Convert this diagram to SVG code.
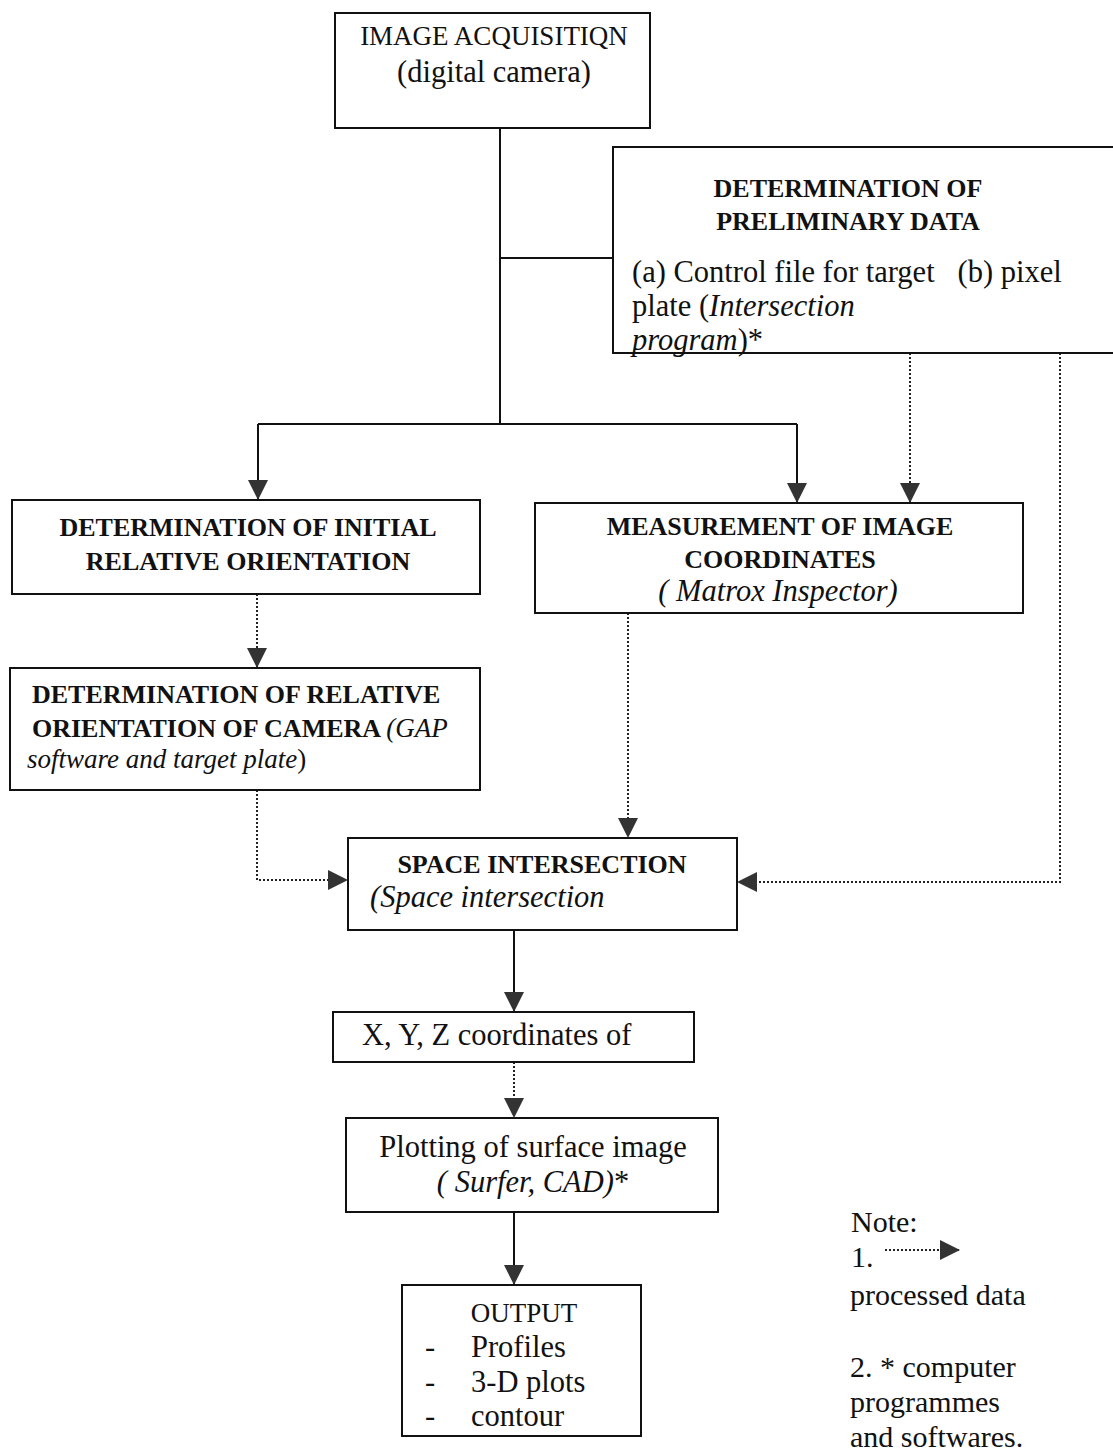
<svg xmlns="http://www.w3.org/2000/svg" width="1113" height="1451" viewBox="0 0 1113 1451">
  <defs>
    <marker id="arrow" viewBox="0 0 20 20" refX="20" refY="10" markerWidth="20" markerHeight="20" markerUnits="userSpaceOnUse" orient="auto">
      <path d="M0,0 L20,10 L0,20 Z" fill="#333"/>
    </marker>
    <style>
      .box { fill: #fff; stroke: #111; stroke-width: 2; }
      .solid { fill: none; stroke: #111; stroke-width: 2; }
      .dotted { fill: none; stroke: #222; stroke-width: 2; stroke-dasharray: 2 2; }
      text { font-family: "Liberation Serif", "Times New Roman", serif; fill: #111; }
      .hd { font-weight: bold; font-size: 26px; }
      .bd { font-size: 30.5px; }
      .nt { font-size: 30px; }
      .it { font-style: italic; }
      .c { text-anchor: middle; }
    </style>
  </defs>

  <rect width="1113" height="1451" fill="#fff"/>

  <!-- connectors -->
  <g id="connectors">
    <path class="solid" d="M500,128 V424"/>
    <path class="solid" d="M500,258 H613"/>
    <path class="solid" d="M258,424 H797"/>
    <path class="solid" d="M258,424 V500" marker-end="url(#arrow)"/>
    <path class="solid" d="M797,424 V503" marker-end="url(#arrow)"/>
    <path class="dotted" d="M910,353 V503" marker-end="url(#arrow)"/>
    <path class="dotted" d="M1060,353 V882 H737" marker-end="url(#arrow)"/>
    <path class="dotted" d="M257,594 V668" marker-end="url(#arrow)"/>
    <path class="dotted" d="M628,613 V838" marker-end="url(#arrow)"/>
    <path class="dotted" d="M257,790 V880 H348" marker-end="url(#arrow)"/>
    <path class="solid" d="M514,930 V1012" marker-end="url(#arrow)"/>
    <path class="dotted" d="M514,1062 V1118" marker-end="url(#arrow)"/>
    <path class="solid" d="M514,1212 V1285" marker-end="url(#arrow)"/>
  </g>

  <!-- image acquisition -->
  <g id="image-acquisition">
    <rect class="box" x="335" y="13" width="315" height="115"/>
    <text class="c" x="494" y="45" font-size="27">IMAGE ACQUISITIQN</text>
    <text class="bd c" x="494" y="82">(digital camera)</text>
  </g>

  <!-- preliminary data -->
  <g id="preliminary-data">
    <rect class="box" x="613" y="147" width="510" height="206"/>
    <text class="hd c" x="848" y="197">DETERMINATION OF</text>
    <text class="hd c" x="848" y="230">PRELIMINARY DATA</text>
    <text class="bd" x="632" y="282" xml:space="preserve">(a) Control file for target   (b) pixel</text>
    <text class="bd" x="632" y="316">plate (<tspan class="it">Intersection</tspan></text>
    <text class="bd" x="632" y="350"><tspan class="it">program</tspan>)*</text>
  </g>

  <!-- initial relative orientation -->
  <g id="initial-orientation">
    <rect class="box" x="12" y="500" width="468" height="94"/>
    <text class="hd c" x="248" y="536">DETERMINATION OF INITIAL</text>
    <text class="hd c" x="248" y="570">RELATIVE ORIENTATION</text>
  </g>

  <!-- measurement of image coordinates -->
  <g id="measurement">
    <rect class="box" x="535" y="503" width="488" height="110"/>
    <text class="hd c" x="780" y="535">MEASUREMENT OF IMAGE</text>
    <text class="hd c" x="780" y="568">COORDINATES</text>
    <text class="bd it c" x="778" y="601">( Matrox Inspector)</text>
  </g>

  <!-- relative orientation of camera -->
  <g id="relative-orientation">
    <rect class="box" x="10" y="668" width="470" height="122"/>
    <text class="hd" x="32" y="703">DETERMINATION OF RELATIVE</text>
    <text class="hd" x="32" y="737">ORIENTATION OF CAMERA <tspan font-weight="normal" font-style="italic" font-size="27">(GAP</tspan></text>
    <text class="it" x="27" y="768" font-size="27">software and target plate<tspan font-style="normal">)</tspan></text>
  </g>

  <!-- space intersection -->
  <g id="space-intersection">
    <rect class="box" x="348" y="838" width="389" height="92"/>
    <text class="hd c" x="542" y="873">SPACE INTERSECTION</text>
    <text class="bd it" x="370" y="907">(Space intersection</text>
  </g>

  <!-- xyz coordinates -->
  <g id="xyz-coordinates">
    <rect class="box" x="333" y="1012" width="361" height="50"/>
    <text class="bd" x="362" y="1045">X, Y, Z coordinates of</text>
  </g>

  <!-- plotting -->
  <g id="plotting">
    <rect class="box" x="346" y="1118" width="372" height="94"/>
    <text class="bd c" x="533" y="1157">Plotting of surface image</text>
    <text class="bd c" x="533" y="1192"><tspan class="it">( Surfer, CAD)</tspan>*</text>
  </g>

  <!-- output -->
  <g id="output">
    <rect class="box" x="402" y="1285" width="239" height="151"/>
    <text class="c" x="524" y="1322" font-size="27">OUTPUT</text>
    <text class="bd" x="425" y="1357">-</text>
    <text class="bd" x="471" y="1357">Profiles</text>
    <text class="bd" x="425" y="1392">-</text>
    <text class="bd" x="471" y="1392">3-D plots</text>
    <text class="bd" x="425" y="1426">-</text>
    <text class="bd" x="471" y="1426">contour</text>
  </g>

  <!-- note -->
  <g id="note">
    <text class="nt" x="851" y="1232">Note:</text>
    <text class="nt" x="851" y="1267">1.</text>
    <path class="dotted" d="M885,1250 H960" marker-end="url(#arrow)"/>
    <text class="nt" x="850" y="1305">processed data</text>
    <text class="nt" x="850" y="1377">2. * computer</text>
    <text class="nt" x="850" y="1412">programmes</text>
    <text class="nt" x="850" y="1447">and softwares.</text>
  </g>
</svg>
